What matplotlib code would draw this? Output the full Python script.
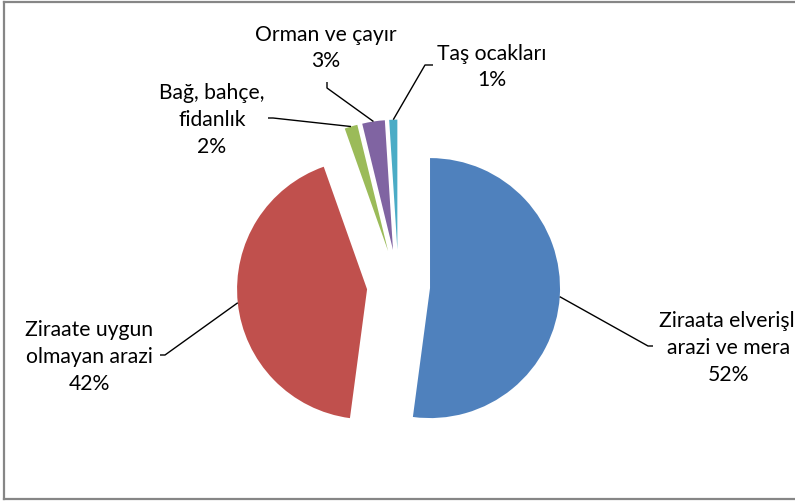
import numpy as np
import matplotlib
matplotlib.use("Agg")
import matplotlib.pyplot as plt

# veri
etiketler = ["Ziraata elverişli\narazi ve mera", "Ziraate uygun\nolmayan arazi",
             "Bağ, bahçe,\nfidanlık", "Orman ve çayır", "Taş ocakları"]
degerler = [52.0, 42.4, 1.6, 2.8, 1.0]
renkler = ["#4F81BD", "#C0504D", "#9BBB59", "#8064A2", "#4BACC6"]
patlama = [0.243, 0.243, 0.28, 0.28, 0.28]

W, H = 795, 501
plt.rcParams["font.family"] = ["Lato", "DejaVu Sans"]

fig = plt.figure(figsize=(W / 100, H / 100), dpi=100)
ax = fig.add_axes([0, 0, 1, 1])


def py(y):
    # resim koordinatindan (yukaridan) eksen koordinatina
    return H - y


R = 130
merkez = (398.5, py(286))
# matplotlib explode degeri veri biriminde, yaricapla carp
dilimler, _ = ax.pie(degerler, colors=renkler, startangle=90, counterclock=False,
                     explode=[p * R for p in patlama], radius=R, center=merkez,
                     wedgeprops=dict(linewidth=0), frame=True)
ax.set_xlim(0, W)
ax.set_ylim(0, H)
ax.set_aspect("equal")
ax.axis("off")

# etiket yerleri (x, y orta satir) ve kilavuz cizgi dirsekleri
yazi_yer = [(729, 348), (89, 357), (212, 120), (326, 48), (492, 67)]
dirsekler = [[(653, 346), (648, 346)],
             [(160, 355), (165, 355)],
             [(268, 118), (273, 118)],
             [(327, 82), (327, 88)],
             [(433, 65), (425, 65)]]

for w, et, d, (tx, ty), dr in zip(dilimler, etiketler, degerler, yazi_yer, dirsekler):
    metin = et + "\n" + str(int(round(d))) + "%"
    ax.text(tx, py(ty), metin, ha="center", va="center", fontsize=15.2,
            linespacing=1.42, color="black")
    orta = np.deg2rad((w.theta1 + w.theta2) / 2)
    cx, cy = w.center
    ux, uy = cx + w.r * np.cos(orta), cy + w.r * np.sin(orta)
    xs = [p[0] for p in dr] + [ux]
    ys = [py(p[1]) for p in dr] + [uy]
    ax.plot(xs, ys, color="black", lw=1.0, solid_capstyle="butt")

# cerceve
ax.plot([4, W + 5], [py(2), py(2)], color="#868686", lw=1.6, clip_on=False)
ax.plot([4, 4], [py(2), py(499)], color="#868686", lw=1.6, clip_on=False)
ax.plot([4, W + 5], [py(499), py(499)], color="#868686", lw=1.6, clip_on=False)

fig.savefig("out.png", dpi=100)
